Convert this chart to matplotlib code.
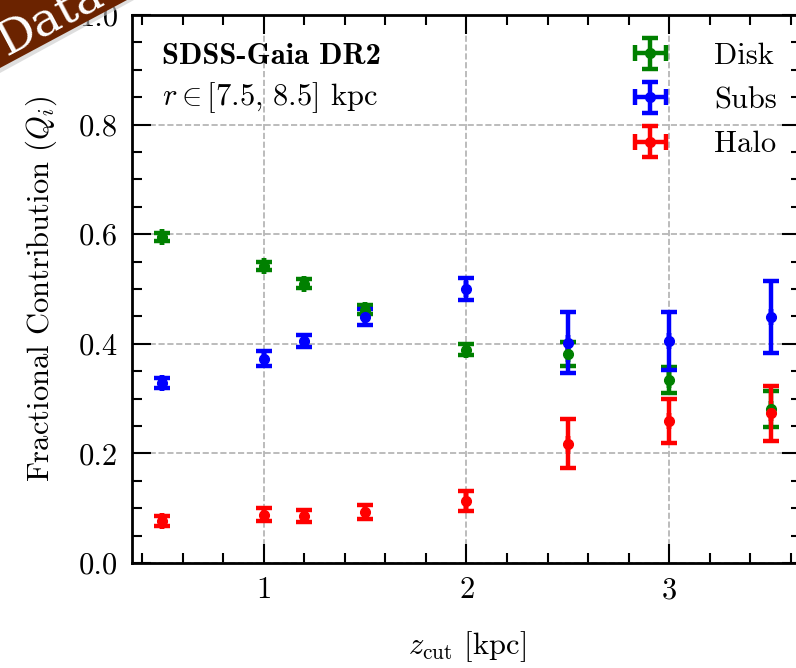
import numpy as np
import matplotlib
matplotlib.use("Agg")
import matplotlib.pyplot as plt
from matplotlib.patches import Polygon
from matplotlib.ticker import MultipleLocator

#%% Data
zcut = [0.5, 1.0, 1.2, 1.5, 2.0, 2.5, 3.0, 3.5]

disk = [0.595, 0.542, 0.510, 0.462, 0.389, 0.382, 0.334, 0.281]
disk_err = [0.008, 0.008, 0.008, 0.008, 0.010, 0.022, 0.024, 0.032]

subs = [0.329, 0.373, 0.405, 0.449, 0.500, 0.402, 0.405, 0.449]
subs_err = [0.009, 0.013, 0.011, 0.015, 0.020, 0.056, 0.053, 0.065]

halo = [0.077, 0.088, 0.086, 0.093, 0.113, 0.218, 0.259, 0.273]
halo_err = [0.009, 0.012, 0.011, 0.012, 0.018, 0.045, 0.040, 0.050]

series = [("Disk", disk, disk_err, "green"),
          ("Subs", subs, subs_err, "blue"),
          ("Halo", halo, halo_err, "red")]

#%% Style
plt.rcParams["font.family"] = "serif"
plt.rcParams["font.serif"] = ["cmr10", "DejaVu Serif"]
plt.rcParams["mathtext.fontset"] = "cm"
plt.rcParams["axes.formatter.use_mathtext"] = True
plt.rcParams["axes.unicode_minus"] = False

fs = 22
fig = plt.figure(figsize=(7.96, 6.68), dpi=100)
ax = fig.add_axes([132/796, 105/668, 669/796, 548/668])

for name, vals, err, col in series:
    ax.errorbar(zcut, vals, yerr=err, xerr=np.zeros(len(zcut)), fmt="o", color=col,
                ms=7, elinewidth=3.2, capsize=6, capthick=3.2, label=name)

ax.set_xlim(0.35, 3.65)
ax.set_ylim(0.0, 1.0)
ax.xaxis.set_major_locator(MultipleLocator(1))
ax.xaxis.set_minor_locator(MultipleLocator(0.2))
ax.yaxis.set_major_locator(MultipleLocator(0.2))
ax.yaxis.set_minor_locator(MultipleLocator(0.05))
ax.yaxis.set_major_formatter(matplotlib.ticker.FormatStrFormatter("%.1f"))
ax.tick_params(which="both", direction="in", top=True, right=True, labelsize=fs)
ax.tick_params(which="major", length=14, width=1.5, pad=10)
ax.tick_params(which="minor", length=7, width=1.5)
for s in ax.spines.values():
    s.set_linewidth(2)
ax.grid(which="major", ls="--", color="#b0b0b0", lw=1.2)
ax.set_axisbelow(True)

ax.set_xlabel(r"$z_\mathrm{cut}$ [kpc]", fontsize=fs, labelpad=18)
ax.set_ylabel(r"Fractional Contribution ($Q_i$)", fontsize=fs, labelpad=14)

ax.text(0.045, 0.925, "SDSS-Gaia DR2", transform=ax.transAxes, family="cmb10",
        fontsize=fs, va="center", ha="left")
ax.text(0.045, 0.85, r"$r \in [7.5,\, 8.5]$ kpc", transform=ax.transAxes,
        fontsize=fs, va="center", ha="left")

leg = ax.legend(loc="upper left", bbox_to_anchor=(0.697, 1.0), frameon=False,
                fontsize=fs, handlelength=1.6, handletextpad=1.3, labelspacing=0.55)

#%% Corner ribbon
W, H = 796., 668.
shadow = Polygon([(0, 1 - 73/H), (134/W, 1), (0, 1)], closed=True,
                 transform=fig.transFigure, color="#c8c8c8", alpha=0.6, lw=0)
ribbon = Polygon([(0, 1 - 68/H), (127/W, 1), (0, 1)], closed=True,
                 transform=fig.transFigure, color="#6b2300", lw=0)
fig.patches.extend([shadow, ribbon])
fig.text(50/W, 1 - 18/H, "Data", color="white", fontsize=34, rotation=28,
         ha="center", va="center", family="DejaVu Serif")

fig.savefig("out.png", dpi=100)
